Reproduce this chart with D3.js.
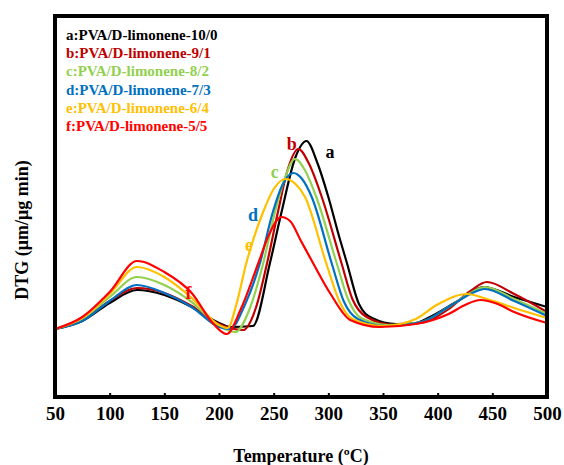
<!DOCTYPE html>
<html>
<head>
<meta charset="utf-8">
<script src="https://cdn.jsdelivr.net/npm/d3@7"></script>
<style>
  body { margin: 0; background: #fff; }
  svg { display: block; }
  text { font-family: "Liberation Serif", "Times New Roman", serif; font-weight: bold; }
</style>
</head>
<body>
<svg width="564" height="465"></svg>
<script>
// DTG curves, [temperature °C, DTG] pairs
const seriesA = [[50,0],[75,0.08],[100,0.26],[125,0.39],[150,0.34],[175,0.22],[200,0.06],[210,0.02],[231,0.03],
    [246.6,0.66],[257,1.16],[270,1.72],[280,1.88],[290,1.66],[300,1.32],[310,0.92],[317,0.66],[328,0.25],
    [340,0.11],[362,0.05],[380,0.06],[393,0.12],[420,0.29],[442,0.42],[470,0.32],[500,0.22]];
const seriesB = [[50,0],[75,0.09],[100,0.28],[125,0.41],[150,0.36],[175,0.23],[200,0.05],[222,-0.01],[234,0.22],
    [244,0.66],[253.7,1.16],[263,1.6],[272.5,1.80],[282,1.66],[294,1.32],[312,0.66],[322,0.3],[335,0.12],
    [360,0.04],[385,0.06],[410,0.2],[430,0.38],[445,0.47],[470,0.35],[500,0.17]];
const seriesC = [[50,0],[75,0.10],[100,0.32],[125,0.52],[150,0.44],[175,0.27],[200,0.03],[215,-0.03],[228,0.2],
    [240.5,0.66],[251,1.16],[260,1.5],[269.5,1.70],[279,1.58],[289,1.32],[307.6,0.66],[318,0.3],[330,0.11],
    [355,0.04],[385,0.07],[410,0.22],[430,0.36],[443,0.42],[470,0.30],[500,0.15]];
const seriesD = [[50,0],[75,0.08],[100,0.28],[125,0.44],[150,0.36],[175,0.22],[200,0.02],[210,0.0],[224,0.25],
    [237.5,0.66],[249,1.16],[258,1.44],[268,1.56],[276,1.5],[284.8,1.32],[303,0.66],[314,0.28],[327,0.1],
    [352,0.03],[385,0.07],[410,0.22],[430,0.35],[443,0.40],[470,0.28],[500,0.13]];
const seriesE = [[50,0],[75,0.11],[100,0.35],[125,0.62],[150,0.52],[175,0.31],[200,0.04],[208,0.01],[216,0.25],
    [225,0.66],[240,1.16],[250,1.40],[261,1.50],[270,1.45],[278.7,1.32],[298,0.66],[310,0.28],[322,0.1],
    [350,0.03],[380,0.1],[399,0.24],[426.5,0.35],[445,0.30],[470,0.21],[500,0.11]];
const seriesF = [[50,0],[75,0.12],[100,0.37],[125,0.68],[150,0.57],[175,0.36],[195,0.05],[207,-0.05],[220,0.2],
    [236,0.66],[246,0.95],[257,1.12],[265,1.08],[275,0.88],[286,0.66],[301.5,0.36],[320,0.09],[347,0.02],
    [380,0.05],[410,0.15],[425,0.24],[439,0.29],[455,0.25],[470,0.17],[500,0.06]];

const legendLabels = ["a:PVA/D-limonene-10/0", "b:PVA/D-limonene-9/1", "c:PVA/D-limonene-8/2",
    "d:PVA/D-limonene-7/3", "e:PVA/D-limonene-6/4", "f:PVA/D-limonene-5/5"];
const letters = ["a", "b", "c", "d", "e", "f"];
const colors = ["#000000", "#C00000", "#92D050", "#0070C0", "#FFC000", "#FF0000"];
// where each curve letter sits, in data units [°C, DTG]
const letterPos = [[301.5,1.77],[266.5,1.85],[251,1.57],[231,1.14],[227.5,0.84],[172,0.36]];
const xTicks = [50, 100, 150, 200, 250, 300, 350, 400, 450, 500];

const allSeries = [seriesA, seriesB, seriesC, seriesD, seriesE, seriesF];

const svg = d3.select("svg");
const mLeft = 55, mRight = 547, mTop = 16, mBottom = 397;

const x = d3.scaleLinear().domain([50, 500]).range([mLeft, mRight]);
const y = d3.scaleLinear().domain([-0.68, 3.13]).range([mBottom, mTop]);

const line = d3.line()
    .x(d => x(d[0]))
    .y(d => y(d[1]))
    .curve(d3.curveMonotoneX);

svg.append("g")
    .selectAll("path")
    .data(allSeries)
    .enter()
    .append("path")
    .attr("d", line)
    .attr("fill", "none")
    .attr("stroke", (d, i) => colors[i])
    .attr("stroke-width", 2.2);

// curve letters
svg.append("g")
    .selectAll("text")
    .data(letters)
    .enter()
    .append("text")
    .attr("x", (d, i) => x(letterPos[i][0]))
    .attr("y", (d, i) => y(letterPos[i][1]) + 6)
    .attr("text-anchor", "middle")
    .attr("font-size", 18)
    .attr("fill", (d, i) => colors[i])
    .text(d => d);

// legend text
svg.append("g")
    .selectAll("text")
    .data(legendLabels)
    .enter()
    .append("text")
    .attr("x", 66)
    .attr("y", (d, i) => 40 + i * 18.2)
    .attr("font-size", 15)
    .attr("fill", (d, i) => colors[i])
    .text(d => d);

// x axis, inward ticks
const xAxis = d3.axisBottom(x)
    .tickValues(xTicks)
    .tickSize(-4)
    .tickPadding(10);

const gx = svg.append("g")
    .attr("transform", `translate(0,${mBottom})`)
    .call(xAxis);
gx.select(".domain").remove();
gx.selectAll(".tick line").attr("stroke", "#000").attr("stroke-width", 2);
gx.selectAll(".tick text")
    .attr("font-size", 19)
    .attr("font-family", "Liberation Serif")
    .attr("font-weight", "bold")
    .attr("fill", "#000");

// frame
svg.append("rect")
    .attr("x", mLeft)
    .attr("y", mTop)
    .attr("width", mRight - mLeft)
    .attr("height", mBottom - mTop)
    .attr("fill", "none")
    .attr("stroke", "#000")
    .attr("stroke-width", 4);

svg.append("text")
    .attr("x", (mLeft + mRight) / 2)
    .attr("y", 462)
    .attr("text-anchor", "middle")
    .attr("font-size", 18)
    .text("Temperature (ºC)");

svg.append("text")
    .attr("transform", "translate(28,230) rotate(-90)")
    .attr("text-anchor", "middle")
    .attr("font-size", 18)
    .text("DTG (μm/μg min)");
</script>
</body>
</html>
